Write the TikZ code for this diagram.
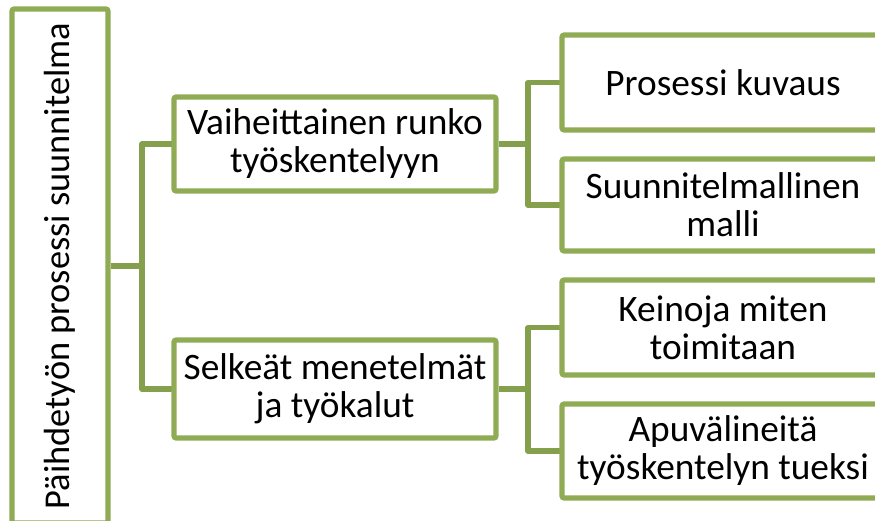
\documentclass[tikz,border=0pt]{standalone}
\usepackage{fontspec}
\setmainfont{Carlito}
\definecolor{boxgreen}{RGB}{143,172,84}
\definecolor{linkgreen}{RGB}{132,160,76}
\begin{document}
\begin{tikzpicture}[x=0.75pt, y=-0.75pt,
  box/.style={shape=rectangle, draw=boxgreen, line width=3.8pt, rounded corners=1.5pt, fill=white,
    align=center, inner sep=0pt, font=\fontsize{28}{28.5}\selectfont},
  link/.style={draw=linkgreen, line width=3.8pt, line join=round}]
\useasboundingbox (0,0) rectangle (875,521);
\clip (0,0) rectangle (875,521);
% junctions
\coordinate (J0) at (142,266);
\coordinate (J1) at (528,144);
\coordinate (J2) at (528,389);
\path [link] (J0) |- (144,144) -- (174,144);
\path [link] (J0) |- (174,389);
\path [link] (J1) |- (562,82.5);
\path [link] (J1) |- (562,205);
\path [link] (J2) |- (562,327.5);
\path [link] (J2) |- (562,451);
\node[box, minimum width=72pt, minimum height=385.5pt, font=\fontsize{27.3}{28}\selectfont] (root) at (60,266) {\rotatebox{90}{Päihdetyön prosessi suunnitelma}};
\node[box, minimum width=241.5pt, minimum height=70.5pt] (A1) at (335,144) {Vaiheittainen runko\\työskentelyyn};
\node[box, minimum width=241.5pt, minimum height=73.5pt] (A2) at (335,389) {Selkeät menetelmät\\ja työkalut};
\node[box, minimum width=241.5pt, minimum height=71.25pt] (B1) at (723,82.5) {Prosessi kuvaus};
\node[box, minimum width=241.5pt, minimum height=69pt] (B2) at (723,205) {Suunnitelmallinen\\malli};
\node[box, minimum width=241.5pt, minimum height=71.25pt] (B3) at (723,327.5) {Keinoja miten\\toimitaan};
\node[box, minimum width=241.5pt, minimum height=70.5pt] (B4) at (723,451) {Apuvälineitä\\työskentelyn tueksi};
\path [link] (root.east) -- (J0);
\path [link] (A1.east) -- (J1);
\path [link] (A2.east) -- (J2);
\end{tikzpicture}
\end{document}
